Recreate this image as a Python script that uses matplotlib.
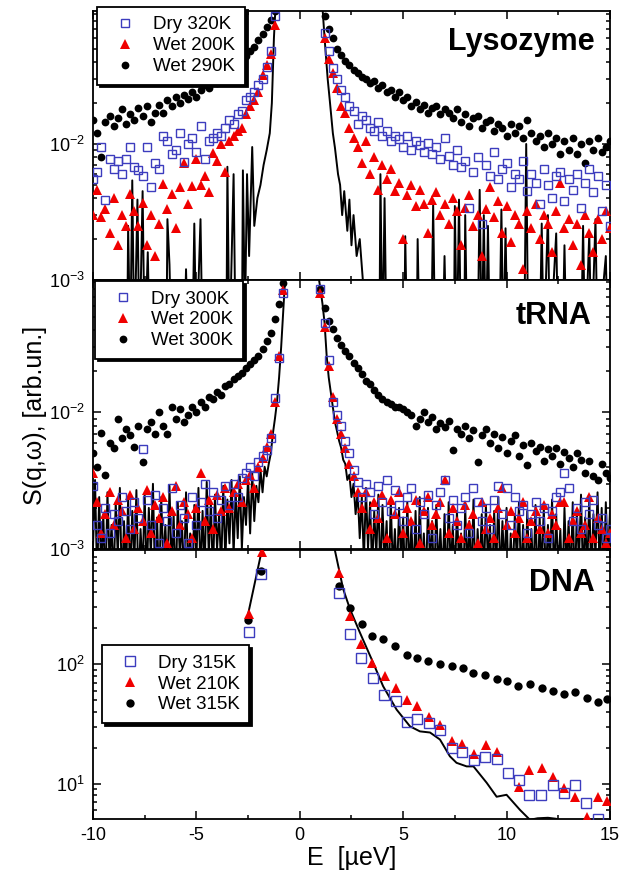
import matplotlib
matplotlib.use("Agg")
import matplotlib.pyplot as plt
from matplotlib.ticker import LogLocator, MultipleLocator, NullFormatter

plt.rcParams["font.family"] = ["Liberation Sans", "DejaVu Sans"]
plt.rcParams["mathtext.fontset"] = "custom"
plt.rcParams["mathtext.rm"] = "Liberation Sans"
plt.rcParams["mathtext.it"] = "Liberation Sans:italic"
plt.rcParams["mathtext.bf"] = "Liberation Sans:bold"
plt.rcParams["axes.unicode_minus"] = False

COLOR_DRY = "#3c3cbe"
COLOR_WET_LO = "#f00000"
COLOR_WET_HI = "#000000"

# ---------------- energy channels (µeV) ----------------
TOP_E_LEFT = [-10.0, -9.8, -9.6, -9.4, -9.2, -9.0, -8.8, -8.6, -8.4, -8.2,
              -8.0, -7.8, -7.6, -7.4, -7.2, -7.0, -6.8, -6.6, -6.4, -6.2,
              -6.0, -5.8, -5.6, -5.4, -5.2, -5.0, -4.8, -4.6, -4.4, -4.2,
              -4.0, -3.8, -3.6, -3.4, -3.2, -3.0, -2.8, -2.6, -2.4, -2.2,
              -2.0, -1.8, -1.6, -1.4, -1.2]
TOP_E_RIGHT = [1.2, 1.4, 1.6, 1.8, 2.0, 2.2, 2.4, 2.6, 2.8, 3.0,
               3.2, 3.4, 3.6, 3.8, 4.0, 4.2, 4.4, 4.6, 4.8, 5.0,
               5.2, 5.4, 5.6, 5.8, 6.0, 6.2, 6.4, 6.6, 6.8, 7.0,
               7.2, 7.4, 7.6, 7.8, 8.0, 8.2, 8.4, 8.6, 8.8, 9.0,
               9.2, 9.4, 9.6, 9.8, 10.0, 10.2, 10.4, 10.6, 10.8, 11.0,
               11.2, 11.4, 11.6, 11.8, 12.0, 12.2, 12.4, 12.6, 12.8, 13.0,
               13.2, 13.4, 13.6, 13.8, 14.0, 14.2, 14.4, 14.6, 14.8, 15.0]
MID_E_LEFT = TOP_E_LEFT + [-1.0, -0.8]
MID_E_RIGHT = [1.0] + TOP_E_RIGHT

# ---------------- Lysozyme (values in 1e-3 arb.un.) ----------------
LYS_DRY_L = [5.5, 6.2, 9.5, 3.9, 7.7, 6.5, 7.5, 6.0, 7.8, 9.5,
             6.8, 6.4, 5.8, 9.5, 4.8, 7.2, 6.5, 11.5, 10.5, 8.5,
             9.0, 12.0, 7.4, 10.0, 11.0, 8.8, 13.5, 7.8, 10.5, 11.0,
             12.0, 11.5, 13.0, 15.0, 14.0, 16.5, 17.5, 21.0, 22.0, 24.0,
             27.0, 30.0, 37.0, 48.0, 88.0]
LYS_DRY_R = [65, 48, 36, 30, 25, 22, 19, 17.5, 14, 16,
             15, 13, 12.5, 14.5, 11.5, 12.5, 10.5, 11.5, 10.8, 9.5,
             11.5, 9.0, 10.5, 9.8, 8.8, 10.2, 8.5, 9.5, 7.8, 11.0,
             8.2, 7.0, 9.0, 6.8, 7.5, 3.4, 6.2, 8.0, 2.6, 7.0,
             5.8, 8.8, 5.5, 6.5, 7.2, 4.8, 6.0, 5.5, 7.5, 4.5,
             6.0, 5.2, 3.6, 6.5, 5.0, 4.0, 5.8, 6.2, 3.8, 5.5,
             4.6, 6.0, 3.4, 5.2, 6.5, 4.4, 5.8, 3.2, 5.0, 2.5]
LYS_WET200_L = [3.0, 4.6, 2.9, 3.3, 2.2, 4.0, 1.8, 3.0, 2.5, 4.3,
                3.2, 2.5, 3.7, 1.8, 3.0, 1.5, 2.6, 5.1, 3.3, 4.3,
                2.4, 4.8, 7.2, 3.6, 4.9, 7.8, 5.0, 5.8, 4.4, 8.6,
                7.5, 10.0, 6.2, 10.5, 11.5, 12.5, 13.0, 16.5, 19.0, 21.0,
                24.0, 32.0, 38.0, 46.0, 75.0]
LYS_WET200_R = [60, 42, 33, 26, 19, 17, 13, 11, 9.5, 7.2,
                10.5, 6.0, 8.0, 4.6, 7.0, 5.5, 6.5, 4.5, 5.2, 2.0,
                4.2, 5.0, 3.5, 4.6, 3.6, 2.2, 3.9, 4.4, 3.0, 3.6,
                2.6, 4.0, 3.2, 1.8, 3.4, 4.2, 2.5, 3.0, 1.5, 3.3,
                4.8, 2.9, 3.8, 2.2, 3.5, 1.9, 3.0, 2.6, 1.2, 3.2,
                2.4, 3.6, 2.0, 3.0, 2.6, 1.6, 3.2, 5.2, 2.4, 2.8,
                1.8, 2.6, 1.3, 3.0, 2.2, 1.6, 2.8, 2.0, 3.2, 2.4]
LYS_WET290_L = [15.0, 12.0, 8.0, 14.5, 16.0, 13.5, 15.5, 18.0, 14.0, 16.5,
                15.0, 18.5, 16.0, 19.0, 14.5, 17.0, 19.5, 17.0, 21.0, 19.0,
                22.0, 20.0, 23.0, 21.5, 24.0, 22.0, 25.0, 27.0, 26.0, 29.0,
                28.0, 31.0, 33.0, 32.0, 36.0, 38.0, 41.0, 44.0, 48.0, 52.0,
                58.0, 64.0, 72.0, 82.0, 95.0]
LYS_WET290_R = [88, 70, 60, 50, 45, 41, 38, 35, 33, 31,
                30, 28, 29, 26, 27, 24, 25, 22, 24, 21,
                22, 19, 20.5, 18, 19.5, 17, 18.5, 19, 16.5, 18,
                17, 15.5, 18, 14.5, 16.5, 13.5, 15.5, 16, 13, 14.5,
                15, 12.5, 14, 13, 11.5, 14, 12, 13.5, 11, 15,
                12, 10.5, 11.5, 9.5, 12, 10, 11, 8.5, 10.5, 9,
                11, 8.5, 10, 7.2, 10.5, 9, 11, 8.8, 9.5, 10.5]
LYS_RES_E = [-10.0, -8.35, -8.3, -8.2, -8.1, -8.0, -7.85, -7.75, -7.6, -7.5,
             -7.35, -7.25, -6.45, -6.4, -6.3, -6.2, -5.6, -5.5, -5.4, -5.2,
             -5.1, -5.0, -4.8, -4.7, -3.55, -3.5, -3.4, -3.2, -3.1, -2.8,
             -2.75, -2.65, -2.55, -2.45, -2.3, -2.2, -2.05, -1.9, -1.75, -1.6,
             -1.45, -1.35, -1.25, -1.15,
             1.1, 1.2, 1.35, 1.45, 1.6, 1.7, 1.85, 1.95, 2.05, 2.15,
             2.3, 2.4, 2.5, 2.6, 2.75, 2.9, 3.05, 3.25, 3.4, 3.85,
             3.9, 4.0, 4.1, 4.2, 5.05, 5.1, 5.2, 5.65, 5.7, 5.8,
             6.35, 6.45, 6.55, 6.9, 7.0, 7.1, 7.45, 7.5, 7.6, 7.7,
             7.8, 7.95, 8.0, 8.1, 8.6, 8.7, 8.8, 8.9, 9.0, 9.1,
             9.2, 9.65, 9.75, 9.85, 9.95, 10.05, 10.85, 10.95, 11.05, 11.6,
             11.7, 11.8, 12.0, 12.1, 12.4, 12.5, 12.7, 12.8, 12.9, 13.6,
             13.7, 13.8, 14.0, 14.1, 14.3, 14.4, 14.8, 14.9, 15.0]
LYS_RES_V = [0.3, 0.3, 2.5, 0.3, 5.4, 0.3, 3.9, 0.3, 4.5, 0.3,
             1.6, 0.3, 0.3, 2.8, 1.3, 0.3, 0.3, 1.2, 0.3, 0.3,
             2.6, 0.3, 2.8, 0.3, 0.3, 6.8, 0.3, 6.0, 0.3, 0.3,
             6.4, 0.5, 6.0, 1.5, 9.5, 2.5, 4.0, 5.0, 7.0, 9.0,
             12, 20, 60, 120,
             100, 60, 30, 21, 12, 9.4, 6.0, 5.0, 3.0, 4.5,
             2.3, 3.9, 1.8, 3.0, 1.5, 2.0, 1.0, 0.6, 0.3, 0.3,
             6.0, 0.3, 4.0, 0.3, 0.3, 2.1, 0.3, 0.3, 2.0, 0.3,
             0.3, 3.6, 0.3, 0.3, 1.5, 0.3, 0.3, 3.5, 0.3, 3.9,
             0.3, 0.3, 3.0, 0.3, 0.3, 4.6, 0.3, 3.0, 0.3, 2.5,
             0.3, 0.3, 3.3, 0.3, 2.4, 0.3, 0.3, 10.0, 0.3, 0.3,
             2.6, 0.3, 3.0, 0.3, 2.2, 0.3, 0.3, 1.8, 0.3, 0.3,
             2.5, 0.3, 2.2, 0.3, 2.8, 0.3, 1.5, 0.3, 0.3]

# ---------------- tRNA (values in 1e-3 arb.un.) ----------------
TRNA_DRY_L = [2.9, 1.5, 1.2, 2.0, 1.3, 1.8, 1.6, 2.4, 1.9, 1.4,
              2.2, 1.7, 5.4, 2.3, 1.5, 2.5, 1.1, 2.0, 1.6, 2.8,
              1.3, 2.1, 1.7, 1.1, 2.4, 1.5, 2.2, 3.0, 1.9, 2.6,
              1.7, 2.3, 2.9, 2.1, 3.0, 2.4, 3.3, 3.6, 4.0, 3.4,
              4.3, 4.8, 5.3, 6.5, 12.8, 25, 75]
TRNA_DRY_R = [80,
              45, 24, 12, 9.5, 8.0, 6.2, 5.0, 3.8, 3.1, 2.4,
              3.0, 2.6, 1.8, 2.9, 2.2, 3.2, 1.9, 2.7, 2.1, 1.6,
              2.4, 2.8, 1.4, 2.2, 1.8, 2.5, 1.2, 2.1, 2.6, 3.2,
              1.7, 2.3, 1.5, 2.0, 2.4, 1.3, 2.8, 2.2, 1.6, 2.0,
              1.4, 2.3, 2.9, 1.8, 2.8, 1.5, 2.4, 1.9, 2.1, 1.3,
              1.8, 2.2, 1.6, 2.0, 1.2, 1.9, 2.4, 2.6, 3.6, 2.8,
              1.6, 2.0, 1.4, 2.2, 1.8, 2.3, 1.5, 1.7, 1.2, 1.4]
TRNA_WET200_L = [3.6, 2.2, 1.3, 1.8, 2.6, 1.5, 2.3, 1.9, 1.2, 2.5,
                 1.4, 2.0, 1.6, 2.7, 1.3, 2.1, 1.7, 2.4, 1.1, 1.9,
                 2.9, 1.5, 2.2, 1.8, 1.2, 2.0, 3.6, 1.6, 2.3, 1.4,
                 2.5, 1.9, 2.8, 2.0, 2.6, 3.0, 2.2, 3.2, 3.5, 2.8,
                 4.0, 4.6, 5.6, 7.0, 12.0, 26, 78]
TRNA_WET200_R = [75,
                 42, 22, 13, 9.0, 7.0, 5.5, 4.2, 3.4, 2.6, 2.0,
                 2.6, 1.4, 2.2, 1.7, 2.5, 1.2, 2.3, 1.8, 2.6, 1.3,
                 2.0, 1.6, 2.3, 1.1, 1.9, 2.4, 1.5, 1.8, 2.2, 3.2,
                 1.3, 2.0, 1.6, 1.2, 2.1, 1.5, 1.8, 1.1, 2.2, 1.4,
                 1.7, 1.2, 2.0, 2.8, 1.5, 1.9, 1.3, 1.7, 2.2, 1.2,
                 1.6, 1.9, 1.4, 2.1, 1.3, 1.8, 1.5, 2.2, 2.2, 1.2,
                 1.6, 1.9, 1.3, 1.5, 2.4, 1.2, 1.7, 1.4, 1.1, 1.3]
TRNA_WET300_L = [5.0, 4.0, 7.1, 3.5, 6.0, 5.5, 9.0, 6.5, 7.6, 6.8,
                 5.6, 8.0, 4.3, 7.5, 8.5, 7.0, 10.0, 8.0, 7.0, 11.0,
                 9.0, 10.5, 8.5, 9.5, 11.0, 10.0, 12.0, 11.0, 13.0, 12.5,
                 14.0, 13.5, 15.5, 16.0, 17.5, 18.5, 19.5, 21, 22.5, 24,
                 26, 29, 33, 38, 48, 62, 88]
TRNA_WET300_R = [80,
                 58, 47, 41, 35, 31, 28, 26, 23, 21, 19,
                 17, 16, 14.5, 13.5, 12.5, 12, 11.5, 11, 11, 10.5,
                 10, 9.5, 8.0, 9.0, 10.0, 8.5, 9.2, 7.5, 8.4, 7.8,
                 8.6, 5.3, 7.6, 7.0, 8.0, 6.5, 7.4, 4.3, 6.8, 7.5,
                 6.0, 7.0, 5.5, 6.6, 5.0, 6.2, 6.8, 4.8, 5.8, 4.1,
                 6.0, 5.2, 5.6, 4.4, 5.4, 4.8, 5.5, 4.2, 5.1, 4.6,
                 4.0, 5.0, 4.5, 3.6, 4.4, 3.4, 3.2, 4.2, 3.6, 3.3]
TRNA_RES_E = [-10.0, -9.9, -9.8, -9.7, -9.6, -9.5, -9.4, -9.3, -9.2, -9.1,
              -9.0, -8.9, -8.8, -8.7, -8.6, -8.5, -8.4, -8.3, -8.2, -8.1,
              -8.0, -7.9, -7.8, -7.7, -7.6, -7.5, -7.4, -7.3, -7.2, -7.1,
              -7.0, -6.9, -6.8, -6.7, -6.6, -6.5, -6.4, -6.3, -6.2, -6.1,
              -6.0, -5.9, -5.8, -5.7, -5.6, -5.5, -5.4, -5.3, -5.2, -5.1,
              -5.0, -4.9, -4.8, -4.7, -4.6, -4.5, -4.4, -4.3, -4.2, -4.1,
              -4.0, -3.9, -3.8, -3.7, -3.6, -3.5, -3.4, -3.3, -3.2, -3.1,
              -3.0, -2.9, -2.8, -2.7, -2.6, -2.5, -2.4, -2.3, -2.2, -2.1,
              -2.0, -1.9, -1.8, -1.7, -1.6, -1.5, -1.4, -1.3, -1.2, -1.1,
              -1.0, -0.9, -0.8, -0.7,
              0.9,
              1.0, 1.1, 1.2, 1.3, 1.4, 1.5, 1.6, 1.7, 1.8, 1.9,
              2.0, 2.1, 2.2, 2.3, 2.4, 2.5, 2.6, 2.7, 2.8, 2.9,
              3.0, 3.1, 3.2, 3.3, 3.4, 3.5, 3.6, 3.7, 3.8, 3.9,
              4.0, 4.1, 4.2, 4.3, 4.4, 4.5, 4.6, 4.7, 4.8, 4.9,
              5.0, 5.1, 5.2, 5.3, 5.4, 5.5, 5.6, 5.7, 5.8, 5.9,
              6.0, 6.1, 6.2, 6.3, 6.4, 6.5, 6.6, 6.7, 6.8, 6.9,
              7.0, 7.1, 7.2, 7.3, 7.4, 7.5, 7.6, 7.7, 7.8, 7.9,
              8.0, 8.1, 8.2, 8.3, 8.4, 8.5, 8.6, 8.7, 8.8, 8.9,
              9.0, 9.1, 9.2, 9.3, 9.4, 9.5, 9.6, 9.7, 9.8, 9.9,
              10.0, 10.1, 10.2, 10.3, 10.4, 10.5, 10.6, 10.7, 10.8, 10.9,
              11.0, 11.1, 11.2, 11.3, 11.4, 11.5, 11.6, 11.7, 11.8, 11.9,
              12.0, 12.1, 12.2, 12.3, 12.4, 12.5, 12.6, 12.7, 12.8, 12.9,
              13.0, 13.1, 13.2, 13.3, 13.4, 13.5, 13.6, 13.7, 13.8, 13.9,
              14.0, 14.1, 14.2, 14.3, 14.4, 14.5, 14.6, 14.7, 14.8, 14.9,
              15.0]
TRNA_RES_V = [1.0, 3.2, 0.6, 2.4, 0.7, 1.8, 0.5, 2.6, 0.8, 1.5,
              0.6, 2.2, 0.9, 2.8, 0.5, 1.6, 0.7, 2.3, 0.6, 1.9,
              0.8, 2.7, 0.5, 1.4, 0.7, 2.5, 0.6, 2.0, 0.9, 3.0,
              0.6, 1.7, 0.5, 2.4, 0.8, 1.5, 0.6, 2.9, 0.7, 1.8,
              0.5, 2.2, 0.9, 1.6, 0.6, 2.6, 0.7, 1.3, 0.5, 2.1,
              0.8, 2.8, 0.6, 1.9, 0.7, 3.1, 0.9, 2.2, 0.6, 2.5,
              1.0, 1.8, 0.7, 2.9, 0.8, 2.3, 1.1, 3.2, 0.9, 2.6,
              1.2, 3.4, 1.0, 2.4, 1.5, 3.3, 1.3, 3.6, 1.6, 2.9,
              2.2, 3.8, 2.6, 4.0, 3.4, 4.2, 5.0, 7.0, 9.0, 12,
              18, 30, 55, 100,
              100,
              80, 62, 45, 26, 18, 14, 11, 8.5, 7.3, 6.2,
              5.5, 4.5, 4.2, 3.2, 3.5, 2.4, 3.0, 1.8, 2.6, 1.2,
              2.4, 0.8, 2.8, 1.0, 2.2, 0.7, 1.9, 0.9, 2.5, 0.6,
              2.1, 0.8, 1.6, 0.5, 2.3, 0.7, 1.4, 0.6, 2.0, 0.8,
              1.7, 0.5, 2.2, 0.7, 1.5, 0.6, 1.9, 0.5, 2.4, 0.7,
              1.3, 0.6, 2.0, 0.8, 1.6, 0.5, 2.1, 0.7, 1.4, 0.6,
              1.8, 0.5, 2.2, 0.7, 1.5, 0.6, 1.9, 0.8, 1.3, 0.5,
              2.0, 0.7, 1.6, 0.6, 2.3, 0.5, 1.4, 0.7, 1.8, 0.6,
              2.1, 0.8, 1.5, 0.5, 1.9, 0.7, 2.4, 0.6, 1.6, 0.7,
              2.0, 0.5, 1.3, 0.6, 1.8, 0.8, 2.2, 0.6, 1.5, 0.5,
              1.9, 0.7, 1.4, 0.6, 2.1, 0.5, 1.7, 0.7, 2.0, 0.6,
              1.5, 0.8, 2.3, 0.6, 1.8, 0.7, 1.4, 0.5, 2.0, 0.7,
              1.6, 0.6, 2.2, 0.5, 1.9, 0.8, 2.5, 0.6, 1.7, 0.7,
              2.4, 0.6, 1.8, 0.9, 2.6, 0.7, 2.0, 0.6, 2.2, 0.8,
              1.9]

# ---------------- DNA (arb.un.) ----------------
DNA_DRY_E = [-2.44, -1.88, 1.91, 2.43, 2.94, 3.52, 4.07, 4.64, 5.17, 5.65,
             6.25, 6.78, 7.35, 7.86, 8.42, 8.96, 9.52, 10.08, 10.6, 11.1,
             11.65, 12.26, 12.8, 13.3, 13.85, 14.4]
DNA_DRY = [185, 571, 395, 179, 114, 77, 55, 49, 32.7, 35.2,
           32.3, 28.4, 20, 18.5, 15.9, 16.8, 16.2, 12.3, 10.8, 8.0,
           8.0, 9.8, 8.35, 9.7, 6.9, 5.1]
DNA_WET210_E = [-2.44, -1.85, 1.91, 2.43, 2.96, 3.48, 4.12, 4.64, 5.17, 5.68,
                6.25, 6.78, 7.35, 7.86, 8.42, 8.99, 9.52, 10.6, 11.09, 11.7,
                12.26, 12.8, 13.3, 13.87, 14.43, 14.84]
DNA_WET210 = [263, 880, 585, 252, 149, 102, 80, 63.7, 50.8, 44.7,
              36, 31.3, 22.7, 21.7, 17.9, 21, 18.5, 9.5, 13, 13.6,
              11.5, 9.2, 7.7, 5.25, 7.7, 7.2]
DNA_WET315_E = [-2.49, -1.88, 1.91, 2.43, 2.99, 3.48, 4.04, 4.6, 5.17, 5.65,
                6.2, 6.78, 7.35, 7.9, 8.39, 8.96, 9.52, 10.03, 10.57, 11.13,
                11.7, 12.26, 12.8, 13.3, 13.87, 14.43, 14.84]
DNA_WET315 = [234, 608, 455, 299, 217, 173, 162, 142.6, 121, 114,
              107, 100, 97, 94, 85, 82, 75, 72.5, 65.8, 68,
              63.7, 59.7, 57, 58.5, 52.5, 48.5, 51.3]
DNA_RES_E = [-2.5, -1.85, -1.5, 1.5, 1.7, 2.1, 2.43, 2.9, 3.48, 4.03,
             4.68, 5.33, 5.81, 6.3, 6.78, 7.26, 7.58, 8.07, 8.4, 9.04,
             9.52, 10.0, 10.65, 11.13, 11.5, 12.0, 12.4, 12.8, 15.0]
DNA_RES = [263, 880, 3000, 3000, 900, 427, 290, 186, 110, 65.7,
           41.9, 30.3, 27.5, 26.9, 23.5, 17, 15, 14, 14, 10.2,
           7.8, 8.1, 6.05, 5.0, 5.15, 5.2, 5.1, 4.5, 3.0]


def milli(values):
    return [v * 1e-3 for v in values]


def style_axis(ax, ylim):
    ax.set_xlim(-10, 15)
    ax.set_yscale("log")
    ax.set_ylim(*ylim)
    ax.xaxis.set_major_locator(MultipleLocator(5))
    ax.xaxis.set_minor_locator(MultipleLocator(2.5))
    ax.yaxis.set_major_locator(LogLocator(base=10))
    ax.yaxis.set_minor_locator(LogLocator(base=10, subs=range(2, 10)))
    ax.yaxis.set_minor_formatter(NullFormatter())
    ax.tick_params(which="both", direction="in", top=True, right=True,
                   labelsize=13, width=1.1, pad=6)
    ax.tick_params(which="major", length=6)
    ax.tick_params(which="minor", length=3)
    for s in ax.spines.values():
        s.set_linewidth(1.3)


def draw_panel(ax, res_e, res_v, series, labels, sizes, legend_anchor, name,
               name_xy):
    ax.plot(res_e, res_v, color="black", lw=1.4, zorder=2)
    (e_dry, v_dry), (e_lo, v_lo), (e_hi, v_hi) = series
    ms_sq, ms_tri, ms_dot = sizes
    h_hi, = ax.plot(e_hi, v_hi, ls="none", marker="o", ms=ms_dot,
                    color=COLOR_WET_HI, mew=0, zorder=3, label=labels[2])
    h_lo, = ax.plot(e_lo, v_lo, ls="none", marker="^", ms=ms_tri,
                    color=COLOR_WET_LO, mew=0, zorder=4, label=labels[1])
    h_dry, = ax.plot(e_dry, v_dry, ls="none", marker="s", ms=ms_sq,
                     mfc="none", mec=COLOR_DRY, mew=1.0, zorder=5,
                     label=labels[0])
    leg = ax.legend(handles=[h_dry, h_lo, h_hi], loc="upper left",
                    bbox_to_anchor=legend_anchor, borderaxespad=0,
                    fontsize=13.5, frameon=True, fancybox=False,
                    edgecolor="black", framealpha=1, handlelength=2.0,
                    handletextpad=0.5, borderpad=0.5, labelspacing=0.2,
                    shadow={"color": "black", "alpha": 1.0})
    leg.get_frame().set_linewidth(1.3)
    leg.set_zorder(10)
    ax.text(name_xy[0], name_xy[1], name, transform=ax.transAxes,
            ha="right", va="baseline", fontsize=22, fontweight="bold")


fig = plt.figure(figsize=(6.24, 8.72), dpi=100)
left, width, height = 0.149, 0.8285, 0.3085
ax1 = fig.add_axes([left, 0.6789, width, height])
ax2 = fig.add_axes([left, 0.3704, width, height], sharex=ax1)
ax3 = fig.add_axes([left, 0.0608, width, height], sharex=ax1)

style_axis(ax1, (1e-3, 0.095))
style_axis(ax2, (1e-3, 0.093))
style_axis(ax3, (5.08, 908))

draw_panel(ax1, LYS_RES_E, milli(LYS_RES_V),
           [(TOP_E_LEFT + TOP_E_RIGHT, milli(LYS_DRY_L + LYS_DRY_R)),
            (TOP_E_LEFT + TOP_E_RIGHT, milli(LYS_WET200_L + LYS_WET200_R)),
            (TOP_E_LEFT + TOP_E_RIGHT, milli(LYS_WET290_L + LYS_WET290_R))],
           ["Dry 320K", "Wet 200K", "Wet 290K"], (6.3, 7.2, 5.6),
           (0.008, 1.015), "Lysozyme", (0.971, 0.855))

draw_panel(ax2, TRNA_RES_E, milli(TRNA_RES_V),
           [(MID_E_LEFT + MID_E_RIGHT, milli(TRNA_DRY_L + TRNA_DRY_R)),
            (MID_E_LEFT + MID_E_RIGHT, milli(TRNA_WET200_L + TRNA_WET200_R)),
            (MID_E_LEFT + MID_E_RIGHT, milli(TRNA_WET300_L + TRNA_WET300_R))],
           ["Dry 300K", "Wet 200K", "Wet 300K"], (6.3, 7.2, 5.6),
           (0.004, 0.996), "tRNA", (0.965, 0.836))

draw_panel(ax3, DNA_RES_E, DNA_RES,
           [(DNA_DRY_E, DNA_DRY), (DNA_WET210_E, DNA_WET210),
            (DNA_WET315_E, DNA_WET315)],
           ["Dry 315K", "Wet 210K", "Wet 315K"], (6.6, 7.4, 6.0),
           (0.017, 0.646), "DNA", (0.971, 0.847))

for ax in (ax1, ax2):
    ax.tick_params(labelbottom=False)

ax3.set_xlabel("E  [µeV]", fontsize=18, labelpad=1)
fig.text(0.056, 0.524, "S(q,ω), [arb.un.]", rotation=90, fontsize=18,
         ha="center", va="center")

fig.savefig("out.png", dpi=100, facecolor="white")
